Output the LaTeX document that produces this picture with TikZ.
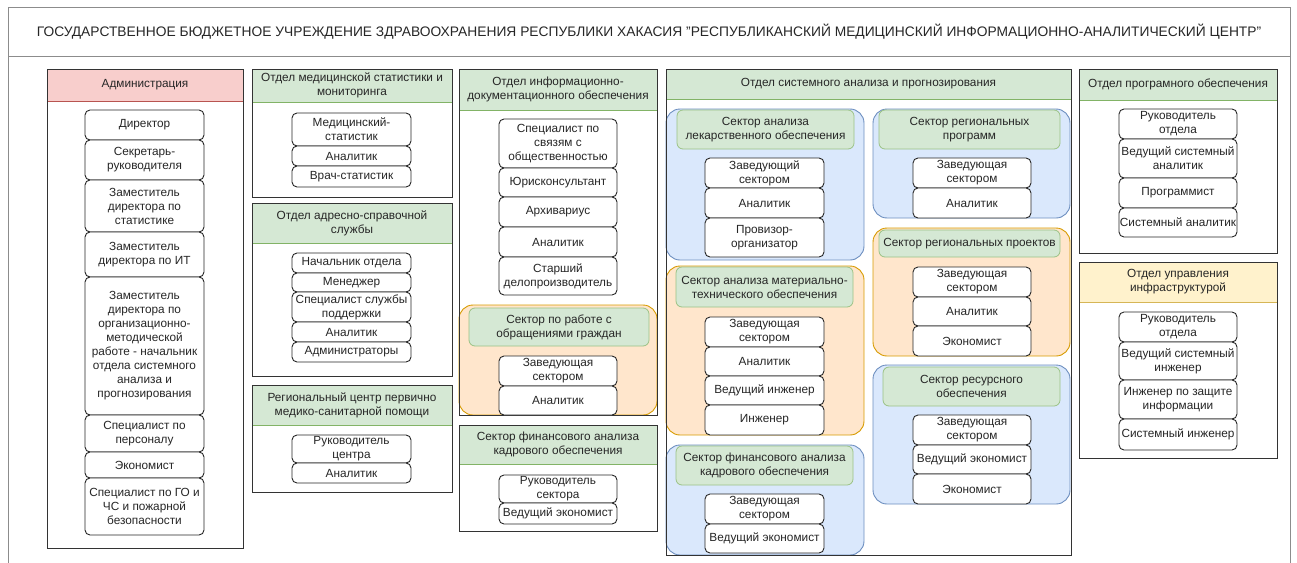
\documentclass[tikz,border=0pt]{standalone}
\usepackage{fontspec}
\setmainfont{Liberation Sans}
\definecolor{admfill}{HTML}{F8CECC}
\definecolor{admline}{HTML}{B85450}
\definecolor{grnfill}{HTML}{D5E8D4}
\definecolor{grnline}{HTML}{82B366}
\definecolor{blufill}{HTML}{DAE8FC}
\definecolor{bluline}{HTML}{6C8EBF}
\definecolor{orgfill}{HTML}{FFE6CC}
\definecolor{orgline}{HTML}{D79B00}
\definecolor{ylwfill}{HTML}{FFF2CC}
\definecolor{ylwline}{HTML}{D6B656}
\tikzset{
	every node/.style={inner sep=0pt, outer sep=0pt, align=center, text=black!85, font=\fontsize{11.8}{14}\selectfont},
	frame/.style={draw=black!45, line width=0.9pt},
	dept/.style={draw=black!80, line width=0.9pt},
	depthdr/.style={draw=grnline, fill=grnfill, line width=0.9pt},
	sector/.style={rounded corners=14pt, line width=0.9pt},
	secthdr/.style={draw=grnline!80, fill=grnfill, rounded corners=6pt, line width=0.8pt},
	staff/.style={draw=black!85, fill=white, rounded corners=5pt, line width=0.9pt},
}
% box from (x1,y1) to (x2,y2), pixel coordinates
\def\orgbox[#1](#2)(#3,#4)(#5,#6)#7{\node[#1, minimum width={(#5)-(#3)}, minimum height={(#6)-(#4)}] (#2) at ({((#3)+(#5))/2}, {((#4)+(#6))/2}) {#7};}

\begin{document}
\begin{tikzpicture}[x=1pt, y=-1pt]
				\useasboundingbox (0,0) rectangle (1297,562);
				%%%%% TITLE %%%%%
				\orgbox[frame](body)(8,56)(1290,600){}
				\orgbox[frame](title)(8,7)(1290,56){\fontsize{13.8}{16}\selectfont ГОСУДАРСТВЕННОЕ БЮДЖЕТНОЕ УЧРЕЖДЕНИЕ ЗДРАВООХРАНЕНИЯ РЕСПУБЛИКИ ХАКАСИЯ "РЕСПУБЛИКАНСКИЙ МЕДИЦИНСКИЙ ИНФОРМАЦИОННО-АНАЛИТИЧЕСКИЙ ЦЕНТР"}
				
				%%%%% ADMINISTRATION %%%%%
				\orgbox[draw=admline, fill=admfill, line width=0.9pt](admhdr)(47,69)(243,101){Администрация}
				\orgbox[dept](adm)(47,69)(243,548){}
				\orgbox[staff](adm1)(85,110)(204,140){Директор}
				\orgbox[staff](adm2)(85,140)(204,180){Секретарь-\\руководителя}
				\orgbox[staff](adm3)(85,180)(204,232){Заместитель\\директора по\\статистике}
				\orgbox[staff](adm4)(85,232)(204,277){Заместитель\\директора по ИТ}
				\orgbox[staff](adm5)(85,277)(204,415){Заместитель\\директора по\\организационно-\\методической\\работе - начальник\\отдела системного\\анализа и\\прогнозирования}
				\orgbox[staff](adm6)(85,415)(204,452){Специалист по\\персоналу}
				\orgbox[staff](adm7)(85,452)(204,478){Экономист}
				\orgbox[staff](adm8)(85,478)(204,535){Специалист по ГО и\\ЧС и пожарной\\безопасности}
				
				%%%%% COLUMN 2 %%%%%
				\orgbox[depthdr](medhdr)(252,69)(452,102){Отдел медицинской статистики и\\мониторинга}
				\orgbox[dept](med)(252,69)(452,197){}
				\orgbox[staff](med1)(292,113)(411,146){Медицинский-\\статистик}
				\orgbox[staff](med2)(292,146)(411,166){Аналитик}
				\orgbox[staff](med3)(292,166)(411,187){Врач-статистик}
				
				\orgbox[depthdr](adrhdr)(252,203)(452,243){Отдел адресно-справочной\\службы}
				\orgbox[dept](adr)(252,203)(452,376){}
				\orgbox[staff](adr1)(292,253)(411,273){Начальник отдела}
				\orgbox[staff](adr2)(292,273)(411,292){Менеджер}
				\orgbox[staff](adr3)(292,292)(411,322){Специалист службы\\поддержки}
				\orgbox[staff](adr4)(292,322)(411,342){Аналитик}
				\orgbox[staff](adr5)(292,342)(411,362){Администраторы}
				
				\orgbox[depthdr](rchdr)(252,385)(452,425){Региональный центр первично\\медико-санитарной помощи}
				\orgbox[dept](rc)(252,385)(452,492){}
				\orgbox[staff](rc1)(292,435)(411,463){Руководитель\\центра}
				\orgbox[staff](rc2)(292,463)(411,483){Аналитик}
				
				%%%%% COLUMN 3 %%%%%
				\orgbox[depthdr](idhdr)(459,69)(657,110){Отдел информационно-\\документационного обеспечения}
				\orgbox[sector, draw=orgline, fill=orgfill](cit)(459,305)(657,415){}
				\orgbox[dept](id)(459,69)(657,415){}
				\orgbox[staff](id1)(499,119)(617,168){Специалист по\\связям с\\общественностью}
				\orgbox[staff](id2)(499,168)(617,197){Юрисконсультант}
				\orgbox[staff](id3)(499,197)(617,227){Архивариус}
				\orgbox[staff](id4)(499,227)(617,257){Аналитик}
				\orgbox[staff](id5)(499,257)(617,295){Старший\\делопроизводитель}
				\orgbox[secthdr](cithdr)(469,308)(649,346){Сектор по работе с\\обращениями граждан}
				\orgbox[staff](cit1)(499,356)(617,386){Заведующая\\сектором}
				\orgbox[staff](cit2)(499,386)(617,415){Аналитик}
				
				\orgbox[depthdr](fkhdr)(459,425)(657,464){Сектор финансового анализа\\кадрового обеспечения}
				\orgbox[dept](fk)(459,425)(657,531){}
				\orgbox[staff](fk1)(499,475)(617,503){Руководитель\\сектора}
				\orgbox[staff](fk2)(499,503)(617,524){Ведущий экономист}
				
				%%%%% COLUMN 4 %%%%%
				\orgbox[depthdr](sahdr)(666,69)(1071,99){Отдел системного анализа и прогнозирования}
				\orgbox[sector, draw=bluline, fill=blufill](lek)(666,109)(864,260){}
				\orgbox[sector, draw=orgline, fill=orgfill](mto)(666,266)(864,435){}
				\orgbox[sector, draw=bluline, fill=blufill](fin)(666,445)(864,555){}
				\orgbox[sector, draw=bluline, fill=blufill](rprg)(873,109)(1070,218){}
				\orgbox[sector, draw=orgline, fill=orgfill](rprj)(873,228)(1070,356){}
				\orgbox[sector, draw=bluline, fill=blufill](res)(873,365)(1070,504){}
				\orgbox[dept](sa)(666,69)(1071,555){}
				
				\orgbox[secthdr](lekhdr)(677,110)(854,149){Сектор анализа\\лекарственного обеспечения}
				\orgbox[staff](lek1)(705,158)(824,188){Заведующий\\сектором}
				\orgbox[staff](lek2)(705,188)(824,218){Аналитик}
				\orgbox[staff](lek3)(705,218)(824,257){Провизор-\\организатор}
				
				\orgbox[secthdr](mtohdr)(676,267)(853,307){Сектор анализа материально-\\технического обеспечения}
				\orgbox[staff](mto1)(705,317)(824,347){Заведующая\\сектором}
				\orgbox[staff](mto2)(705,347)(824,376){Аналитик}
				\orgbox[staff](mto3)(705,376)(824,405){Ведущий инженер}
				\orgbox[staff](mto4)(705,405)(824,435){Инженер}
				
				\orgbox[secthdr](finhdr)(676,446)(853,485){Сектор финансового анализа\\кадрового обеспечения}
				\orgbox[staff](fin1)(705,494)(824,524){Заведующая\\сектором}
				\orgbox[staff](fin2)(705,524)(824,553){Ведущий экономист}
				
				\orgbox[secthdr](rprghdr)(879,110)(1060,149){Сектор региональных\\программ}
				\orgbox[staff](rprg1)(913,158)(1031,188){Заведующая\\сектором}
				\orgbox[staff](rprg2)(913,188)(1031,218){Аналитик}
				
				\orgbox[secthdr](rprjhdr)(879,230)(1060,257){Сектор региональных проектов}
				\orgbox[staff](rprj1)(913,267)(1031,297){Заведующая\\сектором}
				\orgbox[staff](rprj2)(913,297)(1031,326){Аналитик}
				\orgbox[staff](rprj3)(913,326)(1031,356){Экономист}
				
				\orgbox[secthdr](reshdr)(883,367)(1060,406){Сектор ресурсного\\обеспечения}
				\orgbox[staff](res1)(913,415)(1031,445){Заведующая\\сектором}
				\orgbox[staff](res2)(913,445)(1031,474){Ведущий экономист}
				\orgbox[staff](res3)(913,474)(1031,504){Экономист}
				
				%%%%% COLUMN 5 %%%%%
				\orgbox[depthdr](pohdr)(1079,69)(1277,100){Отдел програмного обеспечения}
				\orgbox[dept](po)(1079,69)(1277,253){}
				\orgbox[staff](po1)(1119,109)(1237,139){Руководитель\\отдела}
				\orgbox[staff](po2)(1119,139)(1237,178){Ведущий системный\\аналитик}
				\orgbox[staff](po3)(1119,178)(1237,208){Программист}
				\orgbox[staff](po4)(1119,208)(1237,237){Системный аналитик}
				
				\orgbox[draw=ylwline, fill=ylwfill, line width=0.9pt](infhdr)(1079,262)(1277,302){Отдел управления\\инфраструктурой}
				\orgbox[dept](inf)(1079,262)(1277,458){}
				\orgbox[staff](inf1)(1119,312)(1237,342){Руководитель\\отдела}
				\orgbox[staff](inf2)(1119,342)(1237,380){Ведущий системный\\инженер}
				\orgbox[staff](inf3)(1119,380)(1237,419){Инженер по защите\\информации}
				\orgbox[staff](inf4)(1119,419)(1237,450){Системный инженер}
				%%%%% END %%%%%
\end{tikzpicture}
\end{document}
